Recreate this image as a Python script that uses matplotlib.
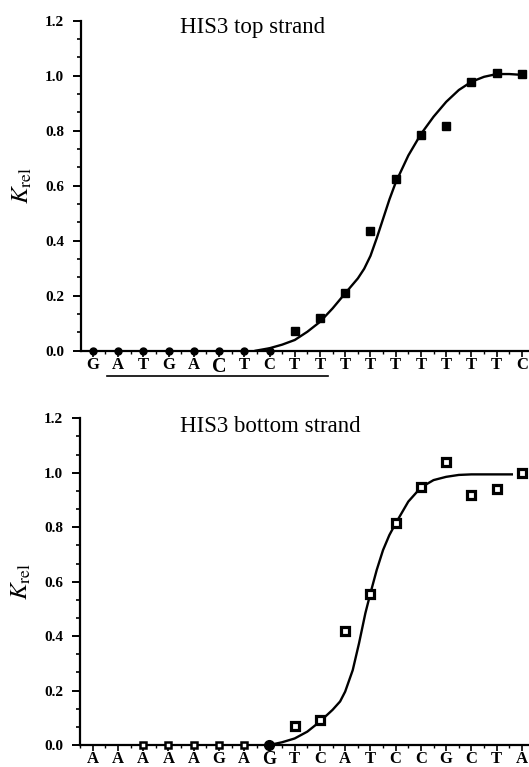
import matplotlib
matplotlib.use("Agg")
import matplotlib.pyplot as plt
import numpy as np
from matplotlib.ticker import MultipleLocator, FixedLocator

plt.rcParams['font.family'] = ['Liberation Serif', 'DejaVu Serif']
plt.rcParams['mathtext.fontset'] = 'stix'

# ---------------- data ----------------
top_labels = list("GATGACTC") + list("TTTTTTTTT") + ["C"]
top_big = 5
top_y = [0, 0, 0, 0, 0, 0, 0, 0, 0.072, 0.118, 0.211, 0.435, 0.624, 0.784, 0.817, 0.976, 1.011, 1.006]
top_fit_x = [6.45, 7, 7.5, 8, 8.5, 9, 9.5, 10, 10.5, 10.75, 11, 11.25, 11.5, 11.75, 12, 12.5,
             13, 13.5, 14, 14.5, 15, 15.5, 16, 16.5, 17]
top_fit_y = [0, 0.009, 0.022, 0.039, 0.069, 0.105, 0.154, 0.209, 0.263, 0.298, 0.345, 0.41, 0.48,
             0.55, 0.612, 0.71, 0.788, 0.851, 0.905, 0.948, 0.978, 0.996, 1.006, 1.006, 1.003]

bot_labels = list("AAAAAGAGTCATCCGCTA")
bot_big = 7
bot_zero_idx = [2, 3, 4, 5, 6]
bot_y = [0.071, 0.092, 0.42, 0.553, 0.814, 0.949, 1.04, 0.918, 0.939, 1.0]   # indices 8..17
bot_fit_x = [7, 7.5, 8, 8.5, 9, 9.5, 9.8, 10, 10.3, 10.55, 10.8, 11, 11.25, 11.5, 11.75, 12, 12.5,
             13, 13.5, 14, 14.5, 15, 15.5, 16, 16.6]
bot_fit_y = [0, 0.01, 0.024, 0.049, 0.086, 0.129, 0.16, 0.196, 0.275, 0.374, 0.484, 0.557, 0.643, 0.716,
             0.771, 0.814, 0.894, 0.946, 0.973, 0.985, 0.992, 0.994, 0.994, 0.994, 0.994]

titles = ["HIS3 top strand", "HIS3 bottom strand"]

W, H = 529, 767
fig = plt.figure(figsize=(W / 100, H / 100), dpi=100)


def style_axes(ax, labels, big, xlim, bigsize):
    ax.set_xlim(*xlim)
    ax.set_ylim(0, 1.2)
    for s in ['top', 'right']:
        ax.spines[s].set_visible(False)
    for s in ['left', 'bottom']:
        ax.spines[s].set_linewidth(1.6)
    ax.yaxis.set_minor_locator(MultipleLocator(0.2 / 3))
    ax.set_yticks(np.arange(0, 1.21, 0.2))
    ax.set_yticklabels([f"{v:.1f}" for v in np.arange(0, 1.21, 0.2)], fontweight='bold', fontsize=11)
    ax.tick_params(axis='y', which='major', length=6, width=1.4, direction='out', pad=6)
    ax.tick_params(axis='y', which='minor', length=3, width=1.2, direction='out')
    n = len(labels)
    ax.set_xticks(range(n))
    ax.xaxis.set_minor_locator(FixedLocator(np.arange(-0.5, n, 1.0)))
    ax.set_xticklabels(labels, fontweight='bold', fontsize=12)
    for i, t in enumerate(ax.get_xticklabels()):
        if i == big:
            t.set_fontsize(bigsize)
    ax.tick_params(axis='x', which='major', length=4, width=1.2, direction='out', pad=0.5)
    ax.tick_params(axis='x', which='minor', length=2.5, width=1.0, direction='out')
    ax.set_ylabel(r"$K_{\mathrm{rel}}$", fontsize=18)


# ---------------- top panel ----------------
ax1 = fig.add_axes([81 / W, 1 - 350.7 / H, 1 - 81 / W, 330 / H])
style_axes(ax1, top_labels, top_big, (-0.47, 17.28), 14.5)
ax1.yaxis.set_label_coords(-0.105, 0.5)
ax1.plot(top_fit_x, top_fit_y, color='black', lw=1.7, zorder=3)
xs = np.arange(len(top_y))
ax1.plot(xs[:8], top_y[:8], 'o', color='black', ms=5, clip_on=False, zorder=4)
ax1.plot(xs[8:], top_y[8:], 's', color='black', ms=5.5, clip_on=False, zorder=4)
ax1.plot([0.55, 9.3], [-0.077, -0.077], color='black', lw=1.2,
         transform=ax1.get_xaxis_transform(), clip_on=False)
fig.text(180 / W, 1 - 33 / H, titles[0], fontsize=16.5, va='baseline', ha='left')

# ---------------- bottom panel ----------------
ax2 = fig.add_axes([80 / W, 1 - 745 / H, 1 - 80 / W, 326.7 / H])
style_axes(ax2, bot_labels, bot_big, (-0.5, 17.28), 13)
ax2.yaxis.set_label_coords(-0.105, 0.5)
ax2.plot(bot_fit_x, bot_fit_y, color='black', lw=1.7, zorder=3)
ax2.plot(bot_zero_idx, [0] * len(bot_zero_idx), 's', mfc='white', mec='black', mew=1.8,
         ms=4.8, clip_on=False, zorder=4)
ax2.plot([7], [0], 'o', color='black', ms=7, clip_on=False, zorder=4)
ax2.plot(np.arange(8, 8 + len(bot_y)), bot_y, 's', mfc='white', mec='black', mew=2.3,
         ms=5.5, clip_on=False, zorder=4)
fig.text(180 / W, 1 - 431.7 / H, titles[1], fontsize=16.5, va='baseline', ha='left')

fig.savefig("out.png", dpi=100)
